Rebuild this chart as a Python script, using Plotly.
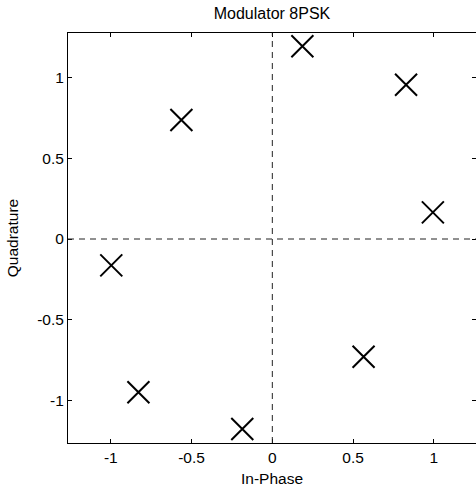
import plotly.graph_objects as go

in_phase = [0.186, 0.828, 0.994, 0.565, -0.186, -0.829, -0.997, -0.563]
quadrature = [1.193, 0.955, 0.165, -0.729, -1.176, -0.949, -0.163, 0.737]
tick_vals = [-1, -0.5, 0, 0.5, 1]
tick_text = ["-1", "-0.5", "0", "0.5", "1"]

FONT = "Liberation Sans, Arial, sans-serif"

fig = go.Figure()
fig.add_trace(go.Scatter(
    x=in_phase, y=quadrature, mode="markers",
    marker=dict(symbol="x-thin", size=22, color="black",
                line=dict(width=2, color="black")),
    showlegend=False, hoverinfo="skip",
))
fig.add_hline(y=0, line=dict(color="#222222", width=1, dash="6px,5px"))
fig.add_vline(x=0, line=dict(color="#222222", width=1, dash="6px,5px"))

axis_common = dict(
    showgrid=False, zeroline=False, showline=True, linecolor="black",
    linewidth=1, mirror="ticks", ticks="inside", ticklen=4,
    tickcolor="black", tickvals=tick_vals, ticktext=tick_text,
    tickfont=dict(family=FONT, size=15.5, color="black"),
)

fig.update_layout(
    template="none",
    width=476, height=488,
    margin=dict(l=68, r=0, t=33, b=45),
    paper_bgcolor="white", plot_bgcolor="white",
    font=dict(family=FONT, size=15, color="black"),
    title=dict(text="Modulator 8PSK", x=0.5, xref="paper", xanchor="center",
               y=1 - 13 / 488, yref="container", yanchor="middle",
               font=dict(family=FONT, size=16, color="black")),
    xaxis=dict(range=[-1.265, 1.261], title=dict(text="In-Phase", standoff=8,
               font=dict(family=FONT, size=15.5, color="black")), **axis_common),
    yaxis=dict(range=[-1.263, 1.2755], title=dict(text="Quadrature", standoff=14,
               font=dict(family=FONT, size=15.5, color="black")), **axis_common),
)

fig.write_html("out.html")
